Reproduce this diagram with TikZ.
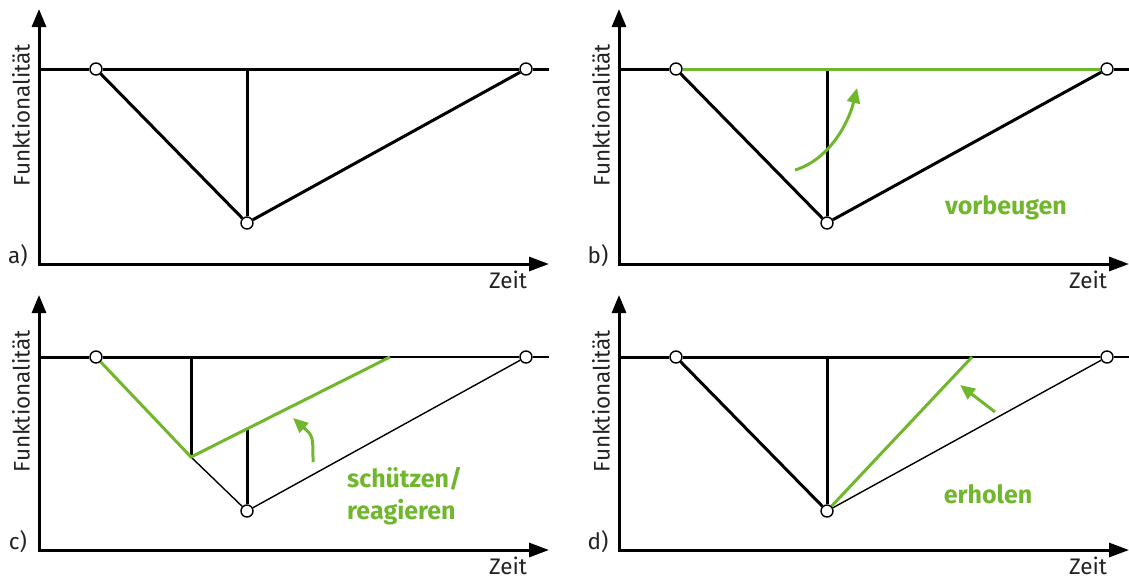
\documentclass[tikz,border=0pt]{standalone}
\usepackage{fontspec}
\setmainfont{Fira Sans}
\usetikzlibrary{arrows.meta}
\definecolor{KritisGreen}{RGB}{112,183,45}
\definecolor{KritisText}{RGB}{35,35,35}

\tikzset{
  knot/.style={circle,draw,fill=white,line width=1.4pt,inner sep=0pt,minimum size=12pt},
  achse/.style={line width=3pt,line join=miter,{Triangle[length=18pt,width=14pt]}-{Triangle[length=20pt,width=14pt]}},
  kurve/.style={line width=3pt},
  duenn/.style={line width=1.4pt},
  gruen/.style={KritisGreen,line width=3pt},
  pfeil/.style={KritisGreen,line width=3pt,-{Triangle[length=15pt,width=13pt]}},
  achsentext/.style={font=\fontsize{22.5}{27}\selectfont,text=KritisText,inner sep=0pt},
  gruentext/.style={font=\fontsize{25}{32}\selectfont\bfseries,text=KritisGreen,inner sep=0pt,align=left}
}

\begin{document}
\begin{tikzpicture}[x=1pt,y=-1pt]
  \useasboundingbox (0,0) rectangle (1129,581);

  % axes of the four panels
  \foreach \dx/\dy/\pn in {0/0/a,580/0/b,0/286/c,580/286/d}{
    \begin{scope}[shift={(\dx,\dy)}]
      \draw[achse] (39,9) -- (39,264) -- (549,264);
      \node[achsentext,rotate=90] (\pn y) at (21,115) {Funktionalität};
      \node[achsentext] (\pn x) at (508,280) {Zeit};
      \node[achsentext] (\pn n) at (18,256) {\pn)};
    \end{scope}
  }

  % a) Ausfall und Erholung
  \begin{scope}
    \coordinate (al) at (39,69);
    \coordinate (ar) at (549,69);
    \coordinate (at) at (247,69);
    \node[knot] (as) at (96,69) {};
    \node[knot] (am) at (247,223) {};
    \node[knot] (ae) at (526,69) {};
    \draw[kurve] (al) -- (as);
    \draw[kurve] (as) -- (ae);
    \draw[kurve] (ae) -- (ar);
    \draw[kurve] (as) -- (am) -- (ae);
    \draw[kurve] (at) -- (am);
  \end{scope}

  % b) vorbeugen
  \begin{scope}[shift={(580,0)}]
    \coordinate (bl) at (39,69);
    \coordinate (br) at (549,69);
    \coordinate (bt) at (247,69);
    \node[knot] (bs) at (96,69) {};
    \node[knot] (bm) at (247,223) {};
    \node[knot] (be) at (527,69) {};
    \draw[kurve] (bl) -- (bs);
    \draw[kurve] (be) -- (br);
    \draw[kurve] (bs) -- (bm) -- (be);
    \draw[kurve] (bt) -- (bm);
    \draw[gruen] (bs) -- (be);
    \draw[pfeil] (215,170) .. controls (248,160) and (268,125) .. (277,88);
    \node[gruentext] (bx) at (426,208) {vorbeugen};
  \end{scope}

  % c) schuetzen / reagieren
  \begin{scope}[shift={(0,288)}]
    \coordinate (cl) at (39,69);
    \coordinate (cr) at (549,69);
    \coordinate (ct) at (191,69);
    \coordinate (cp) at (191,169);
    \coordinate (cq) at (390,69);
    \coordinate (ck) at (247,141);
    \node[knot] (cs) at (96,69) {};
    \node[knot] (cm) at (247,223) {};
    \node[knot] (ce) at (526,69) {};
    \draw[kurve] (cl) -- (cs);
    \draw[kurve] (cs) -- (cq);
    \draw[duenn] (cq) -- (ce);
    \draw[duenn] (ce) -- (cr);
    \draw[duenn] (cp) -- (cm) -- (ce);
    \draw[kurve] (ct) -- (cp);
    \draw[kurve] (ck) -- (cm);
    \draw[gruen] (cs) -- (cp) -- (cq);
    \draw[pfeil] (313,174) .. controls (313,148) .. (293,130);
    \node[gruentext,anchor=west] (cx) at (347,208) {schützen/\\reagieren};
  \end{scope}

  % d) erholen
  \begin{scope}[shift={(580,288)}]
    \coordinate (dl) at (39,69);
    \coordinate (dr) at (549,69);
    \coordinate (dt) at (247,69);
    \coordinate (dq) at (392,69);
    \node[knot] (ds) at (96,69) {};
    \node[knot] (dm) at (247,223) {};
    \node[knot] (de) at (527,69) {};
    \draw[kurve] (dl) -- (ds);
    \draw[kurve] (ds) -- (dq);
    \draw[duenn] (dq) -- (de);
    \draw[duenn] (de) -- (dr);
    \draw[kurve] (ds) -- (dm);
    \draw[kurve] (dt) -- (dm);
    \draw[duenn] (dm) -- (de);
    \draw[gruen] (dm) -- (dq);
    \draw[pfeil] (415,124) -- (380,97);
    \node[gruentext] (dx) at (408,206) {erholen};
  \end{scope}
\end{tikzpicture}
\end{document}
